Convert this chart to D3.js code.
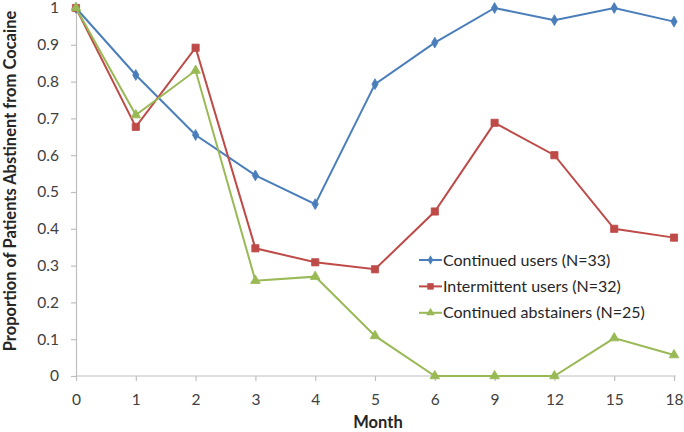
<!DOCTYPE html>
<html><head><meta charset="utf-8">
<script src="https://cdn.jsdelivr.net/npm/d3@7"></script>
<style>body{margin:0;background:#fff}svg{display:block}</style>
</head><body>
<svg id="c" width="684" height="432"></svg>
<script>
const months = ["0","1","2","3","4","5","6","9","12","15","18"];
const yTicks = [0,0.1,0.2,0.3,0.4,0.5,0.6,0.7,0.8,0.9,1];
const seriesNames = ["Continued users (N=33)","Intermittent users (N=32)","Continued abstainers (N=25)"];
const continuedUsers = [1,0.818,0.655,0.545,0.467,0.793,0.906,1,0.967,1,0.963];
const intermittentUsers = [1,0.677,0.892,0.347,0.309,0.290,0.447,0.688,0.600,0.400,0.376];
const continuedAbstainers = [1,0.709,0.830,0.259,0.270,0.109,0,0,0,0.103,0.057];
const colors = ["#4a7ebb","#be4b48","#98b954"];
const symbols = [d3.symbolDiamond, d3.symbolSquare, d3.symbolTriangle];
const symSizes = [34, 52, 40];

const font = "Lato, 'Open Sans', sans-serif";
const svg = d3.select("#c");
const x = d3.scalePoint().domain(months).range([76,674]);
const y = d3.scaleLinear().domain([0,1]).range([376,8]);
const axisColor = "#bfbfbf";

const xa = svg.append("g").attr("transform","translate(0,376)")
  .call(d3.axisBottom(x).tickSize(5).tickSizeOuter(0).tickPadding(13));
const ya = svg.append("g").attr("transform","translate(76,0)")
  .call(d3.axisLeft(y).tickValues(yTicks).tickFormat(d3.format("")).tickSize(5).tickSizeOuter(0).tickPadding(12));
[xa,ya].forEach(a=>{
  a.select(".domain").attr("stroke",axisColor).attr("stroke-width",1.2);
  a.selectAll(".tick line").attr("stroke",axisColor).attr("stroke-width",1.2);
  a.selectAll(".tick text").attr("fill","#404040").attr("font-family",font).attr("font-size",15.5);
});
xa.select(".domain").attr("d","M76,0H676");

const data = [continuedUsers, intermittentUsers, continuedAbstainers];
const line = d3.line().x((d,i)=>x(months[i])).y(d=>y(d));
data.forEach((vals,k)=>{
  svg.append("path").attr("d",line(vals)).attr("fill","none")
    .attr("stroke",colors[k]).attr("stroke-width",2);
  svg.append("g").selectAll("path").data(vals).join("path")
    .attr("transform",(d,i)=>`translate(${x(months[i])},${y(d)})`)
    .attr("d",d3.symbol().type(symbols[k]).size(symSizes[k]))
    .attr("fill",colors[k]).attr("stroke",colors[k]).attr("stroke-width",0.8);
});

// legend
const lg = svg.append("g");
seriesNames.forEach((n,k)=>{
  const cy = 260 + k*26.4;
  lg.append("line").attr("x1",419).attr("x2",442).attr("y1",cy).attr("y2",cy)
    .attr("stroke",colors[k]).attr("stroke-width",2);
  lg.append("path").attr("transform",`translate(430.5,${cy})`)
    .attr("d",d3.symbol().type(symbols[k]).size(symSizes[k]*0.8)).attr("fill",colors[k]);
  lg.append("text").attr("x",443).attr("y",cy).attr("dy","0.35em")
    .attr("font-family",font).attr("font-size",16).attr("fill","#262626").text(n);
});

svg.append("text").attr("x",378).attr("y",428).attr("text-anchor","middle")
  .attr("font-family",font).attr("font-weight","bold").attr("font-size",16.5).attr("fill","#262626").text("Month");
svg.append("text").attr("transform","translate(16,181) rotate(-90)").attr("text-anchor","middle")
  .attr("font-family",font).attr("font-weight","bold").attr("font-size",16.5).attr("fill","#262626")
  .text("Proportion of Patients Abstinent from Cocaine");
</script>
</body></html>
